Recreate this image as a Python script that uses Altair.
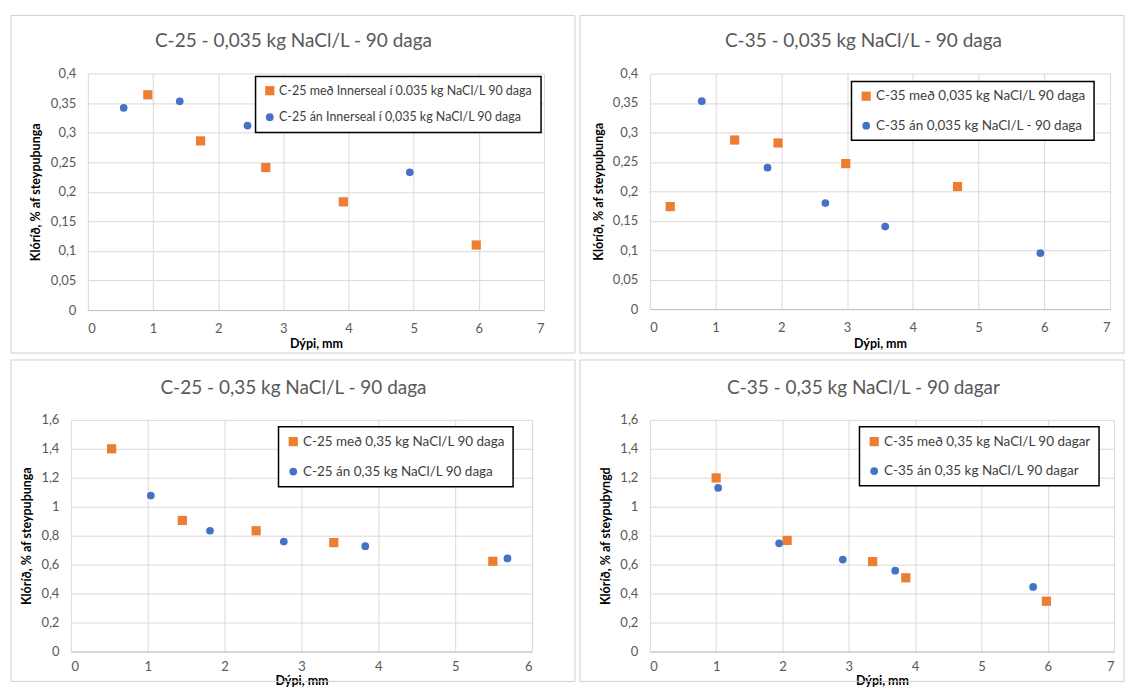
import altair as alt
import pandas as pd

FONT = "Lato"
ORANGE = "#ED7D31"
BLUE = "#4472C4"
GRID = "#D9D9D9"
TXT = "#595959"

# ---------------- data ----------------
p1_title = "C-25 - 0,035 kg NaCl/L - 90 daga"
p1_med_label = "C-25 með Innerseal í 0.035 kg NaCl/L 90 daga"
p1_an_label = "C-25 án Innerseal í 0,035 kg NaCl/L 90 daga"
p1_med_x = [0.92, 1.73, 2.73, 3.92, 5.96]
p1_med_y = [0.364, 0.286, 0.241, 0.183, 0.110]
p1_an_x = [0.55, 1.41, 2.45, 4.94]
p1_an_y = [0.342, 0.353, 0.312, 0.233]

p2_title = "C-35 - 0,035 kg NaCl/L - 90 daga"
p2_med_label = "C-35 með 0,035 kg NaCl/L 90 daga"
p2_an_label = "C-35 án 0,035 kg NaCl/L - 90 daga"
p2_med_x = [0.31, 1.29, 1.95, 2.98, 4.68]
p2_med_y = [0.174, 0.287, 0.282, 0.247, 0.208]
p2_an_x = [0.79, 1.79, 2.67, 3.58, 5.94]
p2_an_y = [0.353, 0.240, 0.180, 0.140, 0.095]

p3_title = "C-25 - 0,35 kg NaCl/L - 90 daga"
p3_med_label = "C-25 með 0,35 kg NaCl/L 90 daga"
p3_an_label = "C-25 án 0,35 kg NaCl/L 90 daga"
p3_med_x = [0.53, 1.45, 2.41, 3.42, 5.49]
p3_med_y = [1.40, 0.905, 0.834, 0.752, 0.623]
p3_an_x = [1.04, 1.81, 2.77, 3.83, 5.68]
p3_an_y = [1.077, 0.834, 0.759, 0.727, 0.643]

p4_title = "C-35 - 0,35 kg NaCl/L - 90 dagar"
p4_med_label = "C-35 með 0,35 kg NaCl/L 90 dagar"
p4_an_label = "C-35 án 0,35 kg NaCl/L 90 dagar"
p4_med_x = [1.00, 2.07, 3.36, 3.86, 5.98]
p4_med_y = [1.199, 0.767, 0.621, 0.509, 0.347]
p4_an_x = [1.03, 1.95, 2.91, 3.70, 5.78]
p4_an_y = [1.13, 0.747, 0.635, 0.558, 0.446]

x_title = "Dýpi, mm"
y_title_a = "Klóríð, % af steypuþunga"
y_title_b = "Klóríð, % af steypuþyngd"

x_ticks_7 = [0, 1, 2, 3, 4, 5, 6, 7]
x_ticks_6 = [0, 1, 2, 3, 4, 5, 6]
y_ticks_small = [0, 0.05, 0.1, 0.15, 0.2, 0.25, 0.3, 0.35, 0.4]
y_ticks_big = [0, 0.2, 0.4, 0.6, 0.8, 1.0, 1.2, 1.4, 1.6]

LABEL_EXPR = "replace(format(datum.value, '~g'), '.', ',')"


def panel(title, med_label, an_label, mx, my, ax, ay, xmax, xticks, ymax, yticks,
          ytitle, g):
    df = pd.DataFrame({
        "x": list(mx) + list(ax),
        "y": list(my) + list(ay),
        "series": [med_label] * len(mx) + [an_label] * len(ax),
    })
    w, h, dx = g["w"], g["h"], g["dx"]
    dom = [med_label, an_label]
    leg = alt.Legend(
        title=None, orient="none", legendX=g["lx"], legendY=g["ly"],
        strokeColor="black", fillColor="white", padding=8,
        labelFont=FONT, labelFontSize=g["lfs"], labelColor="#404040",
        labelLimit=600, rowPadding=g["rp"], labelOffset=3, symbolStrokeWidth=0,
    )
    xaxis = dict(values=xticks, title=x_title, labelExpr=LABEL_EXPR,
                 titleY=g["xty"], titleBaseline="middle",
                 labelPadding=g["xlp"], tickSize=0, ticks=False,
                 domain=True, domainColor="#BFBFBF", domainWidth=1, grid=True)
    yaxis = dict(values=yticks, title=ytitle, labelExpr=LABEL_EXPR,
                 titleX=g["ytx"], titleY=h / 2, titleBaseline="middle",
                 titleAngle=270, titleAlign="center",
                 labelPadding=12, tickSize=0, ticks=False,
                 domain=False, grid=True)
    xscale = dict(domain=[0, xmax], nice=False)
    if dx:
        xscale["range"] = [dx, dx + w]
        yaxis["offset"] = -dx
    xenc = alt.X("x:Q", scale=alt.Scale(**xscale), axis=alt.Axis(**xaxis))
    yenc = alt.Y("y:Q", scale=alt.Scale(domain=[0, ymax], nice=False), axis=alt.Axis(**yaxis))
    points = alt.Chart(df).mark_point(filled=True, opacity=1).encode(
        x=xenc, y=yenc,
        color=alt.Color("series:N", scale=alt.Scale(domain=dom, range=[ORANGE, BLUE]), legend=leg),
        shape=alt.Shape("series:N", scale=alt.Scale(domain=dom, range=["square", "circle"]), legend=leg),
        size=alt.Size("series:N", scale=alt.Scale(domain=dom, range=[85, 60]), legend=leg),
    )
    border = alt.Chart(alt.Data(values=[{}])).mark_rect(
        fillOpacity=0, stroke="#CFCFCF", strokeWidth=1
    ).encode(x=alt.value(g["bx"]), x2=alt.value(g["bx2"]),
             y=alt.value(g["by"]), y2=alt.value(g["by2"]))
    ttl = alt.Chart(alt.Data(values=[{}])).mark_text(
        font=FONT, fontSize=19, color=TXT, align="center", baseline="middle"
    ).encode(x=alt.value(g["tx"]), y=alt.value(g["ty"]), text=alt.value(title))
    return alt.layer(border, points, ttl).properties(width=w + dx, height=h)


# page positions: column origins x=87 / x=648, row origins y=72 / y=417
g1 = dict(w=457, h=237, dx=0, bx=-77, bx2=488, by=-58, by2=280, tx=206, ty=-33,
          ytx=-52, xty=33, xlp=12, lx=168, ly=3, lfs=12.5, rp=13.5)
g2 = dict(w=461, h=236, dx=0, bx=-70, bx2=475, by=-58, by2=280, tx=214, ty=-33,
          ytx=-51, xty=35, xlp=12, lx=202, ly=8, lfs=13.5, rp=14.5)
g3 = dict(w=462, h=232, dx=-17, bx=-77, bx2=488, by=-60, by2=262, tx=206, ty=-32,
          ytx=-44, xty=29.5, xlp=9, lx=191, ly=7, lfs=13.5, rp=15)
g4 = dict(w=465, h=232, dx=0, bx=-70, bx2=475, by=-60, by2=262, tx=214, ty=-32,
          ytx=-44, xty=29.5, xlp=9, lx=210, ly=7, lfs=13.5, rp=14.5)

c1 = panel(p1_title, p1_med_label, p1_an_label, p1_med_x, p1_med_y, p1_an_x, p1_an_y,
           7, x_ticks_7, 0.4, y_ticks_small, y_title_a, g1)
c2 = panel(p2_title, p2_med_label, p2_an_label, p2_med_x, p2_med_y, p2_an_x, p2_an_y,
           7, x_ticks_7, 0.4, y_ticks_small, y_title_a, g2)
c3 = panel(p3_title, p3_med_label, p3_an_label, p3_med_x, p3_med_y, p3_an_x, p3_an_y,
           6, x_ticks_6, 1.6, y_ticks_big, y_title_a, g3)
c4 = panel(p4_title, p4_med_label, p4_an_label, p4_med_x, p4_med_y, p4_an_x, p4_an_y,
           7, x_ticks_7, 1.6, y_ticks_big, y_title_b, g4)

chart = alt.concat(
    c1, c2, c3, c4, columns=2,
    spacing=alt.RowColnumber(row=5, column=3),
).resolve_scale(
    color="independent", shape="independent", size="independent", x="independent", y="independent"
).properties(
    padding={"left": 2, "top": 6, "right": 0, "bottom": 0},
    background="white",
).configure_view(stroke=None).configure_axis(
    labelFont=FONT, labelFontSize=13, labelColor=TXT, gridColor=GRID, gridWidth=1,
    titleFont=FONT, titleFontSize=12.5, titleFontWeight="bold", titleColor="black",
).configure_legend(strokeWidth=1.5)

chart.save("out.html", embed_options={"renderer": "svg", "actions": False})
